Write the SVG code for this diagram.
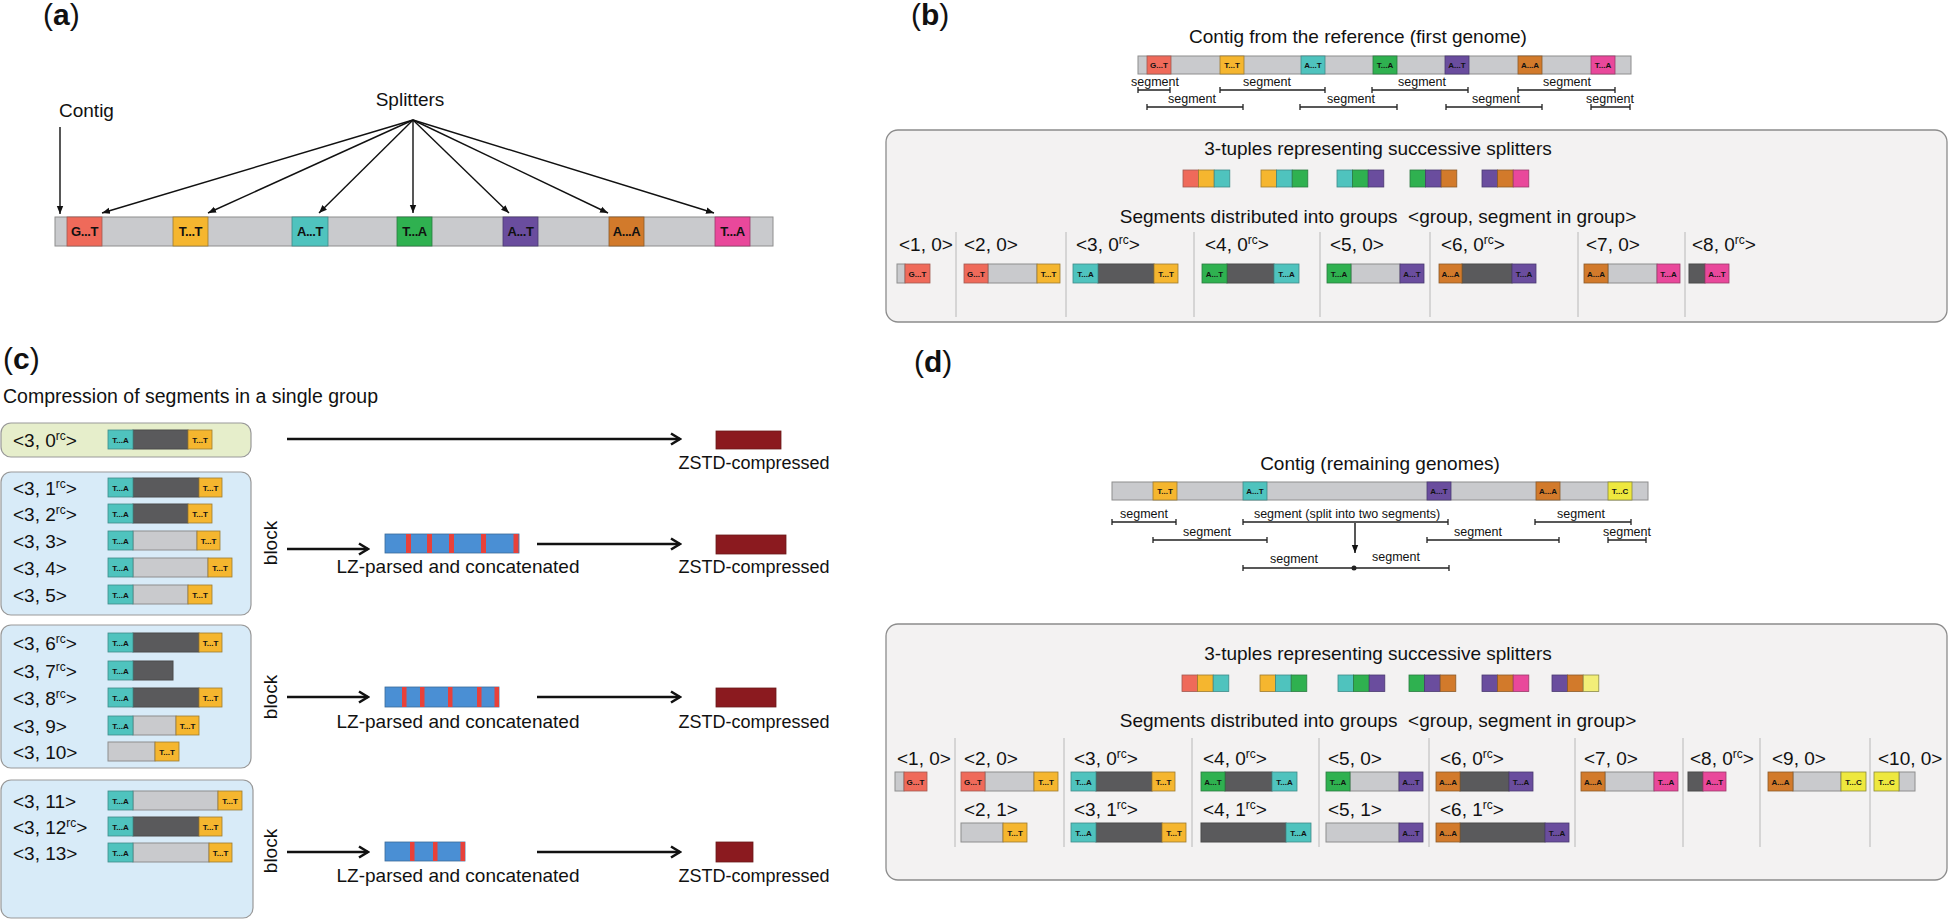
<svg xmlns="http://www.w3.org/2000/svg" width="1950" height="924" viewBox="0 0 1950 924">
<defs>
<style>
text{font-family:"Liberation Sans",Arial,Helvetica,sans-serif;fill:#111}
.lab{font-size:30px;font-weight:bold}
.lp{font-weight:normal}
.t19{font-size:19px}
.t18{font-size:18px}
.sup{font-size:12px}
.mid{text-anchor:middle}
.seg{font-size:12.5px;text-anchor:middle}
.bt{font-weight:bold;font-size:8px;text-anchor:middle}
.bt13{font-weight:bold;font-size:13px;text-anchor:middle;letter-spacing:-0.4px}
.gy{fill:#c9cacd;stroke:#8e8e8e;stroke-width:1}
.dk{fill:#5a5a5c;stroke:#4a4a4a;stroke-width:1}
.r{fill:#ef6a5a;stroke:#a05a52;stroke-width:0.8}
.o{fill:#f5b62f;stroke:#9c7a30;stroke-width:0.8}
.tl{fill:#4fc3be;stroke:#3f8a88;stroke-width:0.8}
.g{fill:#2fb150;stroke:#2a7a40;stroke-width:0.8}
.p{fill:#6a4d9e;stroke:#4a3a70;stroke-width:0.8}
.b{fill:#d27a2b;stroke:#8a5a2a;stroke-width:0.8}
.k{fill:#e9489b;stroke:#9a3a6a;stroke-width:0.8}
.y{fill:#eee83e;stroke:#8a8a3a;stroke-width:0.8}
.yl{fill:#f2ee78;stroke:#8a8a4a;stroke-width:0.8}
.sl{stroke:#222;stroke-width:1.3;fill:none}
.sep{stroke:#b8b8b8;stroke-width:1}
.ar{stroke:#111;stroke-width:1.4;fill:none;marker-end:url(#ah)}
.big{stroke:#111;stroke-width:2.6;fill:none;marker-end:url(#ch)}
.panel{fill:#f3f2f2;stroke:#8c8c8c;stroke-width:1.3}
.grn{fill:#e6eecb;stroke:#999;stroke-width:1.2}
.blu{fill:#d8ebf8;stroke:#999;stroke-width:1.2}
.lz{fill:#4a8fd4;stroke:#3a6a9a;stroke-width:0.8}
.st{fill:#e8413a}
.zs{fill:#8b1a1f;stroke:#6a1a1a;stroke-width:0.8}
</style>
<marker id="ah" viewBox="0 0 10 10" refX="10" refY="5" markerWidth="8" markerHeight="8" markerUnits="userSpaceOnUse" orient="auto">
<path d="M0,1 L10,5 L0,9 z" fill="#111"/>
</marker>
<marker id="ch" viewBox="0 0 16 16" refX="14" refY="8" markerWidth="16" markerHeight="16" markerUnits="userSpaceOnUse" orient="auto">
<path d="M5,2.5 L14,8 L5,13.5" fill="none" stroke="#111" stroke-width="2.6"/>
</marker>
</defs>
<rect width="1950" height="924" fill="#fff"/>

<!-- ================= PANEL A ================= -->
<g id="panel-a">
<text class="lab" x="43" y="25"><tspan class="lp">(</tspan>a<tspan class="lp">)</tspan></text>
<text class="t19" x="59" y="117">Contig</text>
<text class="t19 mid" x="410" y="106">Splitters</text>
<g id="contig-a">
<rect class="gy" x="55" y="217" width="718" height="29"/>
<rect class="r" x="67" y="217" width="35" height="29"/><text class="bt13" x="84.5" y="236">G...T</text>
<rect class="o" x="173" y="217" width="35" height="29"/><text class="bt13" x="190.5" y="236">T...T</text>
<rect class="tl" x="292" y="217" width="36" height="29"/><text class="bt13" x="310" y="236">A...T</text>
<rect class="g" x="397" y="217" width="35" height="29"/><text class="bt13" x="414.5" y="236">T...A</text>
<rect class="p" x="503" y="217" width="35" height="29"/><text class="bt13" x="520.5" y="236">A...T</text>
<rect class="b" x="609" y="217" width="35" height="29"/><text class="bt13" x="626.5" y="236">A...A</text>
<rect class="k" x="715" y="217" width="35" height="29"/><text class="bt13" x="732.5" y="236">T...A</text>
</g>
</g>

<g id="connectors-a">
<line class="ar" x1="60" y1="127" x2="60" y2="214"/>
<line class="ar" x1="413" y1="120" x2="102" y2="213"/>
<line class="ar" x1="413" y1="120" x2="208" y2="213"/>
<line class="ar" x1="413" y1="120" x2="319" y2="213"/>
<line class="ar" x1="413" y1="120" x2="413" y2="213"/>
<line class="ar" x1="413" y1="120" x2="509" y2="213"/>
<line class="ar" x1="413" y1="120" x2="608" y2="213"/>
<line class="ar" x1="413" y1="120" x2="714" y2="213"/>
</g>

<!-- ================= PANEL B ================= -->
<g id="panel-b">
<text class="lab" x="911" y="25"><tspan class="lp">(</tspan>b<tspan class="lp">)</tspan></text>
<text class="t19 mid" x="1358" y="43">Contig from the reference (first genome)</text>
<g id="contig-b">
<rect class="gy" x="1138" y="56" width="493" height="18"/>
<rect class="r" x="1147" y="56" width="24" height="18"/><text class="bt" x="1159" y="68">G...T</text>
<rect class="o" x="1220" y="56" width="24" height="18"/><text class="bt" x="1232" y="68">T...T</text>
<rect class="tl" x="1301" y="56" width="24" height="18"/><text class="bt" x="1313" y="68">A...T</text>
<rect class="g" x="1373" y="56" width="24" height="18"/><text class="bt" x="1385" y="68">T...A</text>
<rect class="p" x="1445" y="56" width="24" height="18"/><text class="bt" x="1457" y="68">A...T</text>
<rect class="b" x="1518" y="56" width="24" height="18"/><text class="bt" x="1530" y="68">A...A</text>
<rect class="k" x="1591" y="56" width="24" height="18"/><text class="bt" x="1603" y="68">T...A</text>
</g>
<g id="segments-b">
<path class="sl" d="M1138,87v6M1138,90H1170M1170,87v6"/><text class="seg" x="1155" y="86">segment</text>
<path class="sl" d="M1220,87v6M1220,90H1325M1325,87v6"/><text class="seg" x="1267" y="86">segment</text>
<path class="sl" d="M1372,87v6M1372,90H1468M1468,87v6"/><text class="seg" x="1422" y="86">segment</text>
<path class="sl" d="M1518,87v6M1518,90H1615M1615,87v6"/><text class="seg" x="1567" y="86">segment</text>
<path class="sl" d="M1147,104v6M1147,107H1243M1243,104v6"/><text class="seg" x="1192" y="103">segment</text>
<path class="sl" d="M1300,104v6M1300,107H1397M1397,104v6"/><text class="seg" x="1351" y="103">segment</text>
<path class="sl" d="M1446,104v6M1446,107H1542M1542,104v6"/><text class="seg" x="1496" y="103">segment</text>
<path class="sl" d="M1591,104v6M1591,107H1630M1630,104v6"/><text class="seg" x="1610" y="103">segment</text>
</g>
<g id="groups-b">
<rect class="panel" x="886" y="130" width="1061" height="192" rx="12"/>
<text class="t19 mid" x="1378" y="155">3-tuples representing successive splitters</text>
<g id="tuples-b">
<rect class="r" x="1183" y="170" width="15.6" height="17"/><rect class="o" x="1198.6" y="170" width="15.6" height="17"/><rect class="tl" x="1214.2" y="170" width="15.6" height="17"/>
<rect class="o" x="1261" y="170" width="15.6" height="17"/><rect class="tl" x="1276.6" y="170" width="15.6" height="17"/><rect class="g" x="1292.2" y="170" width="15.6" height="17"/>
<rect class="tl" x="1337" y="170" width="15.6" height="17"/><rect class="g" x="1352.6" y="170" width="15.6" height="17"/><rect class="p" x="1368.2" y="170" width="15.6" height="17"/>
<rect class="g" x="1410" y="170" width="15.6" height="17"/><rect class="p" x="1425.6" y="170" width="15.6" height="17"/><rect class="b" x="1441.2" y="170" width="15.6" height="17"/>
<rect class="p" x="1482" y="170" width="15.6" height="17"/><rect class="b" x="1497.6" y="170" width="15.6" height="17"/><rect class="k" x="1513.2" y="170" width="15.6" height="17"/>
</g>
<text class="t19 mid" x="1378" y="223" style="white-space:pre">Segments distributed into groups  &lt;group, segment in group&gt;</text>
<g id="seps-b">
<line class="sep" x1="956" y1="232" x2="956" y2="317"/>
<line class="sep" x1="1066" y1="232" x2="1066" y2="317"/>
<line class="sep" x1="1194" y1="232" x2="1194" y2="317"/>
<line class="sep" x1="1320" y1="232" x2="1320" y2="317"/>
<line class="sep" x1="1430" y1="232" x2="1430" y2="317"/>
<line class="sep" x1="1578" y1="232" x2="1578" y2="317"/>
<line class="sep" x1="1685" y1="232" x2="1685" y2="317"/>
</g>
<g id="b-g1"><text class="t19" x="899" y="251">&lt;1, 0&gt;</text>
<rect class="gy" x="897" y="264" width="8" height="19"/><rect class="r" x="905" y="264" width="25" height="19"/><text class="bt" x="917.5" y="276.5">G...T</text></g>
<g id="b-g2"><text class="t19" x="964" y="251">&lt;2, 0&gt;</text>
<rect class="gy" x="988" y="264" width="49" height="19"/><rect class="r" x="964" y="264" width="24" height="19"/><text class="bt" x="976" y="276.5">G...T</text><rect class="o" x="1037" y="264" width="23" height="19"/><text class="bt" x="1048.5" y="276.5">T...T</text></g>
<g id="b-g3"><text class="t19" x="1076" y="251">&lt;3, 0<tspan class="sup" dy="-7">rc</tspan><tspan dy="7">&gt;</tspan></text>
<rect class="dk" x="1098" y="264" width="56" height="19"/><rect class="tl" x="1073" y="264" width="25" height="19"/><text class="bt" x="1085.5" y="276.5">T...A</text><rect class="o" x="1154" y="264" width="24" height="19"/><text class="bt" x="1166" y="276.5">T...T</text></g>
<g id="b-g4"><text class="t19" x="1205" y="251">&lt;4, 0<tspan class="sup" dy="-7">rc</tspan><tspan dy="7">&gt;</tspan></text>
<rect class="dk" x="1227" y="264" width="47" height="19"/><rect class="g" x="1202" y="264" width="25" height="19"/><text class="bt" x="1214.5" y="276.5">A...T</text><rect class="tl" x="1274" y="264" width="25" height="19"/><text class="bt" x="1286.5" y="276.5">T...A</text></g>
<g id="b-g5"><text class="t19" x="1330" y="251">&lt;5, 0&gt;</text>
<rect class="gy" x="1351" y="264" width="49" height="19"/><rect class="g" x="1327" y="264" width="24" height="19"/><text class="bt" x="1339" y="276.5">T...A</text><rect class="p" x="1400" y="264" width="24" height="19"/><text class="bt" x="1412" y="276.5">A...T</text></g>
<g id="b-g6"><text class="t19" x="1441" y="251">&lt;6, 0<tspan class="sup" dy="-7">rc</tspan><tspan dy="7">&gt;</tspan></text>
<rect class="dk" x="1462" y="264" width="50" height="19"/><rect class="b" x="1439" y="264" width="23" height="19"/><text class="bt" x="1450.5" y="276.5">A...A</text><rect class="p" x="1512" y="264" width="24" height="19"/><text class="bt" x="1524" y="276.5">T...A</text></g>
<g id="b-g7"><text class="t19" x="1586" y="251">&lt;7, 0&gt;</text>
<rect class="gy" x="1608" y="264" width="49" height="19"/><rect class="b" x="1584" y="264" width="24" height="19"/><text class="bt" x="1596" y="276.5">A...A</text><rect class="k" x="1657" y="264" width="23" height="19"/><text class="bt" x="1668.5" y="276.5">T...A</text></g>
<g id="b-g8"><text class="t19" x="1692" y="251">&lt;8, 0<tspan class="sup" dy="-7">rc</tspan><tspan dy="7">&gt;</tspan></text>
<rect class="dk" x="1689" y="264" width="16" height="19"/><rect class="k" x="1705" y="264" width="24" height="19"/><text class="bt" x="1717" y="276.5">A...T</text></g>
</g>
</g>

<!-- ================= PANEL C ================= -->
<g id="panel-c">
<text class="lab" x="3" y="369"><tspan class="lp">(</tspan>c<tspan class="lp">)</tspan></text>
<text x="3" y="403" style="font-size:19.5px">Compression of segments in a single group</text>

<g id="c-box1">
<rect class="grn" x="1" y="423" width="250" height="34" rx="10"/>
<text class="t19" x="13" y="446.5">&lt;3, 0<tspan class="sup" dy="-7">rc</tspan><tspan dy="7">&gt;</tspan></text>
<rect class="dk" x="133" y="430" width="55" height="19"/><rect class="tl" x="108" y="430" width="25" height="19"/><text class="bt" x="120.5" y="442.5">T...A</text><rect class="o" x="188" y="430" width="24" height="19"/><text class="bt" x="200" y="442.5">T...T</text>
</g>

<g id="c-box2">
<rect class="blu" x="1" y="472" width="250" height="143" rx="10"/>
<text class="t19" x="13" y="494.5">&lt;3, 1<tspan class="sup" dy="-7">rc</tspan><tspan dy="7">&gt;</tspan></text>
<rect class="dk" x="133" y="478" width="66" height="19"/><rect class="tl" x="108" y="478" width="25" height="19"/><text class="bt" x="120.5" y="490.5">T...A</text><rect class="o" x="199" y="478" width="23" height="19"/><text class="bt" x="210.5" y="490.5">T...T</text>
<text class="t19" x="13" y="520.5">&lt;3, 2<tspan class="sup" dy="-7">rc</tspan><tspan dy="7">&gt;</tspan></text>
<rect class="dk" x="133" y="504" width="55" height="19"/><rect class="tl" x="108" y="504" width="25" height="19"/><text class="bt" x="120.5" y="516.5">T...A</text><rect class="o" x="188" y="504" width="24" height="19"/><text class="bt" x="200" y="516.5">T...T</text>
<text class="t19" x="13" y="547.5">&lt;3, 3&gt;</text>
<rect class="gy" x="133" y="531" width="64" height="19"/><rect class="tl" x="108" y="531" width="25" height="19"/><text class="bt" x="120.5" y="543.5">T...A</text><rect class="o" x="197" y="531" width="23" height="19"/><text class="bt" x="208.5" y="543.5">T...T</text>
<text class="t19" x="13" y="574.5">&lt;3, 4&gt;</text>
<rect class="gy" x="133" y="558" width="75" height="19"/><rect class="tl" x="108" y="558" width="25" height="19"/><text class="bt" x="120.5" y="570.5">T...A</text><rect class="o" x="208" y="558" width="24" height="19"/><text class="bt" x="220" y="570.5">T...T</text>
<text class="t19" x="13" y="601.5">&lt;3, 5&gt;</text>
<rect class="gy" x="133" y="585" width="55" height="19"/><rect class="tl" x="108" y="585" width="25" height="19"/><text class="bt" x="120.5" y="597.5">T...A</text><rect class="o" x="188" y="585" width="24" height="19"/><text class="bt" x="200" y="597.5">T...T</text>
</g>

<g id="c-box3">
<rect class="blu" x="1" y="625" width="250" height="143" rx="10"/>
<text class="t19" x="13" y="649.5">&lt;3, 6<tspan class="sup" dy="-7">rc</tspan><tspan dy="7">&gt;</tspan></text>
<rect class="dk" x="133" y="633" width="66" height="19"/><rect class="tl" x="108" y="633" width="25" height="19"/><text class="bt" x="120.5" y="645.5">T...A</text><rect class="o" x="199" y="633" width="23" height="19"/><text class="bt" x="210.5" y="645.5">T...T</text>
<text class="t19" x="13" y="677.5">&lt;3, 7<tspan class="sup" dy="-7">rc</tspan><tspan dy="7">&gt;</tspan></text>
<rect class="dk" x="133" y="661" width="40" height="19"/><rect class="tl" x="108" y="661" width="25" height="19"/><text class="bt" x="120.5" y="673.5">T...A</text>
<text class="t19" x="13" y="704.5">&lt;3, 8<tspan class="sup" dy="-7">rc</tspan><tspan dy="7">&gt;</tspan></text>
<rect class="dk" x="133" y="688" width="66" height="19"/><rect class="tl" x="108" y="688" width="25" height="19"/><text class="bt" x="120.5" y="700.5">T...A</text><rect class="o" x="199" y="688" width="23" height="19"/><text class="bt" x="210.5" y="700.5">T...T</text>
<text class="t19" x="13" y="732.5">&lt;3, 9&gt;</text>
<rect class="gy" x="133" y="716" width="43" height="19"/><rect class="tl" x="108" y="716" width="25" height="19"/><text class="bt" x="120.5" y="728.5">T...A</text><rect class="o" x="176" y="716" width="23" height="19"/><text class="bt" x="187.5" y="728.5">T...T</text>
<text class="t19" x="13" y="758.5">&lt;3, 10&gt;</text>
<rect class="gy" x="108" y="742" width="47" height="19"/><rect class="o" x="155" y="742" width="24" height="19"/><text class="bt" x="167" y="754.5">T...T</text>
</g>

<g id="c-box4">
<rect class="blu" x="1" y="780" width="252" height="138" rx="10"/>
<text class="t19" x="13" y="807.5">&lt;3, 11&gt;</text>
<rect class="gy" x="133" y="791" width="85" height="19"/><rect class="tl" x="108" y="791" width="25" height="19"/><text class="bt" x="120.5" y="803.5">T...A</text><rect class="o" x="218" y="791" width="24" height="19"/><text class="bt" x="230" y="803.5">T...T</text>
<text class="t19" x="13" y="833.5">&lt;3, 12<tspan class="sup" dy="-7">rc</tspan><tspan dy="7">&gt;</tspan></text>
<rect class="dk" x="133" y="817" width="66" height="19"/><rect class="tl" x="108" y="817" width="25" height="19"/><text class="bt" x="120.5" y="829.5">T...A</text><rect class="o" x="199" y="817" width="23" height="19"/><text class="bt" x="210.5" y="829.5">T...T</text>
<text class="t19" x="13" y="859.5">&lt;3, 13&gt;</text>
<rect class="gy" x="133" y="843" width="76" height="19"/><rect class="tl" x="108" y="843" width="25" height="19"/><text class="bt" x="120.5" y="855.5">T...A</text><rect class="o" x="209" y="843" width="23" height="19"/><text class="bt" x="220.5" y="855.5">T...T</text>
</g>

<g id="c-block-labels">
<text class="t19 mid" transform="translate(277,543) rotate(-90)">block</text>
<text class="t19 mid" transform="translate(277,697) rotate(-90)">block</text>
<text class="t19 mid" transform="translate(277,851) rotate(-90)">block</text>
</g>

<g id="c-lz1">
<rect class="lz" x="385" y="534" width="134" height="19"/>
<rect class="st" x="406" y="534" width="5" height="19"/><rect class="st" x="427" y="534" width="5" height="19"/><rect class="st" x="449" y="534" width="5" height="19"/><rect class="st" x="481" y="534" width="5" height="19"/><rect class="st" x="513.5" y="534" width="5" height="19"/>
<text class="t19 mid" x="458" y="573">LZ-parsed and concatenated</text>
</g>
<g id="c-lz2">
<rect class="lz" x="385" y="687" width="114" height="20"/>
<rect class="st" x="402" y="687" width="4.5" height="20"/><rect class="st" x="420" y="687" width="4.5" height="20"/><rect class="st" x="448" y="687" width="4.5" height="20"/><rect class="st" x="477" y="687" width="4.5" height="20"/><rect class="st" x="494.5" y="687" width="4.5" height="20"/>
<text class="t19 mid" x="458" y="728">LZ-parsed and concatenated</text>
</g>
<g id="c-lz3">
<rect class="lz" x="385" y="842" width="80" height="19"/>
<rect class="st" x="410" y="842" width="4.5" height="19"/><rect class="st" x="433" y="842" width="4.5" height="19"/><rect class="st" x="460.5" y="842" width="4.5" height="19"/>
<text class="t19 mid" x="458" y="882">LZ-parsed and concatenated</text>
</g>

<g id="c-zstd1"><rect class="zs" x="716" y="431" width="65" height="18"/><text class="t18 mid" x="754" y="469">ZSTD-compressed</text></g>
<g id="c-zstd2"><rect class="zs" x="716" y="535" width="70" height="19"/><text class="t18 mid" x="754" y="573">ZSTD-compressed</text></g>
<g id="c-zstd3"><rect class="zs" x="716" y="688" width="60" height="19"/><text class="t18 mid" x="754" y="728">ZSTD-compressed</text></g>
<g id="c-zstd4"><rect class="zs" x="716" y="842" width="37" height="20"/><text class="t18 mid" x="754" y="882">ZSTD-compressed</text></g>
</g>

<g id="connectors-c">
<line class="big" x1="287" y1="439" x2="680" y2="439"/>
<line class="big" x1="287" y1="549" x2="368" y2="549"/>
<line class="big" x1="537" y1="544" x2="680" y2="544"/>
<line class="big" x1="287" y1="697" x2="368" y2="697"/>
<line class="big" x1="537" y1="697" x2="680" y2="697"/>
<line class="big" x1="287" y1="852" x2="368" y2="852"/>
<line class="big" x1="537" y1="852" x2="680" y2="852"/>
</g>

<!-- ================= PANEL D ================= -->
<g id="panel-d">
<text class="lab" x="914" y="372"><tspan class="lp">(</tspan>d<tspan class="lp">)</tspan></text>
<text class="t19 mid" x="1380" y="470">Contig (remaining genomes)</text>
<g id="contig-d">
<rect class="gy" x="1112" y="482" width="536" height="18"/>
<rect class="o" x="1153" y="482" width="24" height="18"/><text class="bt" x="1165" y="494">T...T</text>
<rect class="tl" x="1243" y="482" width="24" height="18"/><text class="bt" x="1255" y="494">A...T</text>
<rect class="p" x="1427" y="482" width="24" height="18"/><text class="bt" x="1439" y="494">A...T</text>
<rect class="b" x="1536" y="482" width="24" height="18"/><text class="bt" x="1548" y="494">A...A</text>
<rect class="y" x="1608" y="482" width="24" height="18"/><text class="bt" x="1620" y="494">T...C</text>
</g>
<g id="segments-d">
<path class="sl" d="M1112,519v6M1112,522H1176M1176,519v6"/><text class="seg" x="1144" y="518">segment</text>
<path class="sl" d="M1243,519v6M1243,522H1448M1448,519v6"/><text class="seg" x="1347" y="518">segment (split into two segments)</text>
<path class="sl" d="M1535,519v6M1535,522H1631M1631,519v6"/><text class="seg" x="1581" y="518">segment</text>
<path class="sl" d="M1153,537v6M1153,540H1267M1267,537v6"/><text class="seg" x="1207" y="536">segment</text>
<path class="sl" d="M1427,537v6M1427,540H1559M1559,537v6"/><text class="seg" x="1478" y="536">segment</text>
<path class="sl" d="M1608,537v6M1608,540H1646M1646,537v6"/><text class="seg" x="1627" y="536">segment</text>
<path class="sl" d="M1243,565v6M1243,568H1449M1449,565v6"/><circle cx="1354" cy="568" r="2.5" fill="#222"/>
<text class="seg" x="1294" y="563">segment</text>
<text class="seg" x="1396" y="561">segment</text>
</g>
<g id="groups-d">
<rect class="panel" x="886" y="624" width="1061" height="256" rx="12"/>
<text class="t19 mid" x="1378" y="660">3-tuples representing successive splitters</text>
<g id="tuples-d">
<rect class="r" x="1182" y="675" width="15.6" height="16.5"/><rect class="o" x="1197.6" y="675" width="15.6" height="16.5"/><rect class="tl" x="1213.2" y="675" width="15.6" height="16.5"/>
<rect class="o" x="1260" y="675" width="15.6" height="16.5"/><rect class="tl" x="1275.6" y="675" width="15.6" height="16.5"/><rect class="g" x="1291.2" y="675" width="15.6" height="16.5"/>
<rect class="tl" x="1338" y="675" width="15.6" height="16.5"/><rect class="g" x="1353.6" y="675" width="15.6" height="16.5"/><rect class="p" x="1369.2" y="675" width="15.6" height="16.5"/>
<rect class="g" x="1409" y="675" width="15.6" height="16.5"/><rect class="p" x="1424.6" y="675" width="15.6" height="16.5"/><rect class="b" x="1440.2" y="675" width="15.6" height="16.5"/>
<rect class="p" x="1482" y="675" width="15.6" height="16.5"/><rect class="b" x="1497.6" y="675" width="15.6" height="16.5"/><rect class="k" x="1513.2" y="675" width="15.6" height="16.5"/>
<rect class="p" x="1552" y="675" width="15.6" height="16.5"/><rect class="b" x="1567.6" y="675" width="15.6" height="16.5"/><rect class="yl" x="1583.2" y="675" width="15.6" height="16.5"/>
</g>
<text class="t19 mid" x="1378" y="727" style="white-space:pre">Segments distributed into groups  &lt;group, segment in group&gt;</text>
<g id="seps-d">
<line class="sep" x1="955" y1="738" x2="955" y2="847"/>
<line class="sep" x1="1064" y1="738" x2="1064" y2="847"/>
<line class="sep" x1="1192" y1="738" x2="1192" y2="847"/>
<line class="sep" x1="1319" y1="738" x2="1319" y2="847"/>
<line class="sep" x1="1429" y1="738" x2="1429" y2="847"/>
<line class="sep" x1="1575" y1="738" x2="1575" y2="847"/>
<line class="sep" x1="1683" y1="738" x2="1683" y2="847"/>
<line class="sep" x1="1760" y1="738" x2="1760" y2="847"/>
<line class="sep" x1="1870" y1="738" x2="1870" y2="847"/>
</g>
<g id="d-g1"><text class="t19" x="897" y="765">&lt;1, 0&gt;</text>
<rect class="gy" x="895" y="772" width="9" height="19"/><rect class="r" x="904" y="772" width="23" height="19"/><text class="bt" x="915.5" y="784.5">G...T</text></g>
<g id="d-g2"><text class="t19" x="964" y="765">&lt;2, 0&gt;</text>
<rect class="gy" x="985" y="772" width="49" height="19"/><rect class="r" x="961" y="772" width="24" height="19"/><text class="bt" x="973" y="784.5">G...T</text><rect class="o" x="1034" y="772" width="24" height="19"/><text class="bt" x="1046" y="784.5">T...T</text>
<text class="t19" x="964" y="816">&lt;2, 1&gt;</text>
<rect class="gy" x="961" y="823" width="42" height="19"/><rect class="o" x="1003" y="823" width="24" height="19"/><text class="bt" x="1015" y="835.5">T...T</text></g>
<g id="d-g3"><text class="t19" x="1074" y="765">&lt;3, 0<tspan class="sup" dy="-7">rc</tspan><tspan dy="7">&gt;</tspan></text>
<rect class="dk" x="1096" y="772" width="56" height="19"/><rect class="tl" x="1071" y="772" width="25" height="19"/><text class="bt" x="1083.5" y="784.5">T...A</text><rect class="o" x="1152" y="772" width="23" height="19"/><text class="bt" x="1163.5" y="784.5">T...T</text>
<text class="t19" x="1074" y="816">&lt;3, 1<tspan class="sup" dy="-7">rc</tspan><tspan dy="7">&gt;</tspan></text>
<rect class="dk" x="1096" y="823" width="66" height="19"/><rect class="tl" x="1071" y="823" width="25" height="19"/><text class="bt" x="1083.5" y="835.5">T...A</text><rect class="o" x="1162" y="823" width="24" height="19"/><text class="bt" x="1174" y="835.5">T...T</text></g>
<g id="d-g4"><text class="t19" x="1203" y="765">&lt;4, 0<tspan class="sup" dy="-7">rc</tspan><tspan dy="7">&gt;</tspan></text>
<rect class="dk" x="1225" y="772" width="47" height="19"/><rect class="g" x="1201" y="772" width="24" height="19"/><text class="bt" x="1213" y="784.5">A...T</text><rect class="tl" x="1272" y="772" width="25" height="19"/><text class="bt" x="1284.5" y="784.5">T...A</text>
<text class="t19" x="1203" y="816">&lt;4, 1<tspan class="sup" dy="-7">rc</tspan><tspan dy="7">&gt;</tspan></text>
<rect class="dk" x="1201" y="823" width="85" height="19"/><rect class="tl" x="1286" y="823" width="25" height="19"/><text class="bt" x="1298.5" y="835.5">T...A</text></g>
<g id="d-g5"><text class="t19" x="1328" y="765">&lt;5, 0&gt;</text>
<rect class="gy" x="1350" y="772" width="49" height="19"/><rect class="g" x="1326" y="772" width="24" height="19"/><text class="bt" x="1338" y="784.5">T...A</text><rect class="p" x="1399" y="772" width="24" height="19"/><text class="bt" x="1411" y="784.5">A...T</text>
<text class="t19" x="1328" y="816">&lt;5, 1&gt;</text>
<rect class="gy" x="1326" y="823" width="73" height="19"/><rect class="p" x="1399" y="823" width="24" height="19"/><text class="bt" x="1411" y="835.5">A...T</text></g>
<g id="d-g6"><text class="t19" x="1440" y="765">&lt;6, 0<tspan class="sup" dy="-7">rc</tspan><tspan dy="7">&gt;</tspan></text>
<rect class="dk" x="1460" y="772" width="49" height="19"/><rect class="b" x="1436" y="772" width="24" height="19"/><text class="bt" x="1448" y="784.5">A...A</text><rect class="p" x="1509" y="772" width="24" height="19"/><text class="bt" x="1521" y="784.5">T...A</text>
<text class="t19" x="1440" y="816">&lt;6, 1<tspan class="sup" dy="-7">rc</tspan><tspan dy="7">&gt;</tspan></text>
<rect class="dk" x="1460" y="823" width="85" height="19"/><rect class="b" x="1436" y="823" width="24" height="19"/><text class="bt" x="1448" y="835.5">A...A</text><rect class="p" x="1545" y="823" width="24" height="19"/><text class="bt" x="1557" y="835.5">T...A</text></g>
<g id="d-g7"><text class="t19" x="1584" y="765">&lt;7, 0&gt;</text>
<rect class="gy" x="1605" y="772" width="49" height="19"/><rect class="b" x="1581" y="772" width="24" height="19"/><text class="bt" x="1593" y="784.5">A...A</text><rect class="k" x="1654" y="772" width="24" height="19"/><text class="bt" x="1666" y="784.5">T...A</text></g>
<g id="d-g8"><text class="t19" x="1690" y="765">&lt;8, 0<tspan class="sup" dy="-7">rc</tspan><tspan dy="7">&gt;</tspan></text>
<rect class="dk" x="1688" y="772" width="15" height="19"/><rect class="k" x="1703" y="772" width="23" height="19"/><text class="bt" x="1714.5" y="784.5">A...T</text></g>
<g id="d-g9"><text class="t19" x="1772" y="765">&lt;9, 0&gt;</text>
<rect class="gy" x="1793" y="772" width="48" height="19"/><rect class="b" x="1768" y="772" width="25" height="19"/><text class="bt" x="1780.5" y="784.5">A...A</text><rect class="y" x="1841" y="772" width="25" height="19"/><text class="bt" x="1853.5" y="784.5">T...C</text></g>
<g id="d-g10"><text class="t19" x="1878" y="765">&lt;10, 0&gt;</text>
<rect class="gy" x="1899" y="772" width="16" height="19"/><rect class="y" x="1874" y="772" width="25" height="19"/><text class="bt" x="1886.5" y="784.5">T...C</text></g>
</g>
</g>

<g id="connectors-d">
<line class="ar" x1="1355" y1="523" x2="1355" y2="553"/>
</g>
</svg>
